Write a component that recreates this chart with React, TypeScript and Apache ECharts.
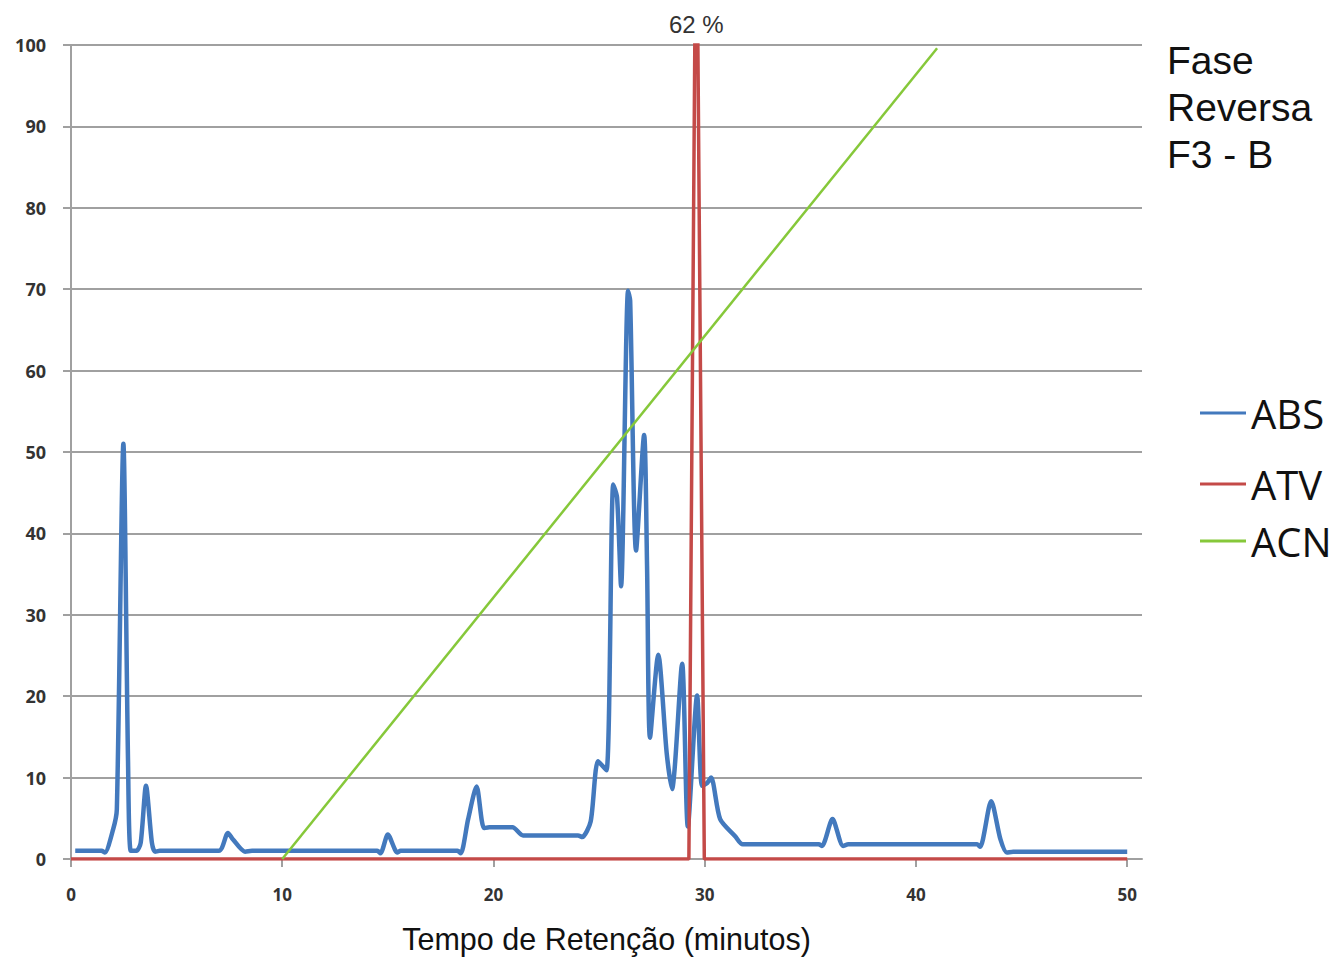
import React, { useEffect, useRef } from "react";
import * as echarts from "echarts";

// Chromatogram: absorbance (ABS), activity (ATV) and acetonitrile gradient (ACN)
const absPoints: [number, number][] = [
  [0.2, 1.0], [1.45, 1.0], [1.6, 0.8], [2.0, 3.7], [2.17, 6.1], [2.48, 51], [2.7, 12],
  [2.83, 1.0], [3.1, 1.0], [3.3, 2.0], [3.55, 9.0], [3.83, 2.0], [3.98, 0.9], [4.2, 1.0],
  [7.0, 1.0], [7.43, 3.2], [7.67, 2.4], [8.24, 0.9], [8.57, 1.0],
  [14.5, 1.0], [14.65, 0.7], [15.0, 3.0], [15.45, 0.8], [15.6, 1.0],
  [18.3, 1.0], [18.45, 0.7], [18.8, 4.9], [19.2, 8.9], [19.55, 3.8], [19.8, 3.9],
  [20.9, 3.9], [21.4, 2.9], [24.0, 2.9], [24.2, 2.7], [24.6, 4.6], [24.95, 12.0],
  [25.35, 10.9], [25.67, 46], [25.85, 44.4], [26.04, 33.5], [26.37, 69.8], [26.47, 68.6],
  [26.75, 37.9], [27.13, 52.1], [27.27, 36], [27.41, 14.9], [27.8, 25.1], [28.2, 13],
  [28.45, 8.6], [28.93, 24], [29.2, 4], [29.64, 20.1], [29.87, 9], [30.1, 9.3],
  [30.3, 10.0], [30.73, 4.9], [31.44, 2.8], [31.8, 1.8], [35.4, 1.8], [35.55, 1.6],
  [36.05, 4.9], [36.55, 1.6], [36.8, 1.8], [42.9, 1.8], [43.04, 1.5], [43.56, 7.1],
  [44.0, 2.4], [44.3, 0.8], [44.6, 0.9], [50, 0.9],
];

const atvPoints: [number, number][] = [
  [0, 0], [29.25, 0], [29.6, 125], [29.98, 0], [50, 0],
];

const acnPoints: [number, number][] = [
  [10, 0], [41, 99.6],
];

const xTicks = [0, 10, 20, 30, 40, 50];
const acnAtActivePeak = 62;
const activePeakTime = 29.6;

const axisGray = "#a0a0a0";
const labelStyle = {
  color: "#333",
  fontFamily: "Open Sans",
  fontWeight: "bold" as const,
  fontSize: 17,
};

export default function App() {
  const ref = useRef<HTMLDivElement>(null);

  useEffect(() => {
    if (!ref.current) return;
    const chart = echarts.init(ref.current, undefined, { renderer: "svg" });

    const legendItem = (name: string, top: number) => ({
      data: [name],
      left: 1200,
      top,
      padding: 0,
      orient: "vertical",
      icon: "rect",
      itemWidth: 46,
      itemHeight: 3,
      textStyle: { color: "#111", fontFamily: "Open Sans", fontSize: 40 },
    });

    chart.setOption({
      animation: false,
      backgroundColor: "#fff",
      title: {
        text: "Fase\nReversa\nF3 - B",
        left: 1167,
        top: 37,
        padding: 0,
        textStyle: {
          color: "#111",
          fontFamily: "Liberation Sans",
          fontWeight: "normal",
          fontSize: 39,
          lineHeight: 47,
        },
      },
      legend: [
        legendItem("ABS", 393),
        legendItem("ATV", 464),
        legendItem("ACN", 521),
      ],
      grid: { left: 71, right: 190, top: 45, bottom: 96 },
      xAxis: {
        type: "value",
        min: 0,
        max: 50.7,
        name: "Tempo de Retenção (minutos)",
        nameLocation: "middle",
        nameGap: 64,
        nameTextStyle: { color: "#111", fontFamily: "Liberation Sans", fontSize: 30.5 },
        axisLine: { show: true, lineStyle: { color: axisGray, width: 2 } },
        axisTick: { show: true, customValues: xTicks, length: 8, lineStyle: { color: axisGray, width: 2 } },
        axisLabel: { customValues: xTicks, margin: 27, ...labelStyle },
        splitLine: { show: false },
      },
      yAxis: {
        type: "value",
        min: 0,
        max: 100,
        interval: 10,
        axisLine: { show: true, lineStyle: { color: axisGray, width: 2 } },
        axisTick: { show: true, length: 8, lineStyle: { color: axisGray, width: 2 } },
        axisLabel: { margin: 25, ...labelStyle, fontSize: 18 },
        splitLine: { show: true, lineStyle: { color: axisGray, width: 2 } },
      },
      series: [
        {
          name: "ABS",
          type: "line",
          data: absPoints,
          showSymbol: false,
          smooth: 0.25,
          color: "#4379bd",
          lineStyle: { width: 4.5, color: "#4379bd" },
        },
        {
          name: "ATV",
          type: "line",
          data: atvPoints,
          showSymbol: false,
          clip: true,
          color: "#c44a48",
          lineStyle: { width: 3.5, color: "#c44a48" },
          markPoint: {
            symbol: "circle",
            symbolSize: 0,
            data: [{ coord: [activePeakTime, 100], value: acnAtActivePeak }],
            label: {
              show: true,
              position: "top",
              distance: 9,
              formatter: "{c} %",
              color: "#333",
              fontFamily: "Liberation Sans",
              fontSize: 24,
            },
          },
        },
        {
          name: "ACN",
          type: "line",
          data: acnPoints,
          showSymbol: false,
          color: "#86c83a",
          lineStyle: { width: 2.5, color: "#86c83a" },
        },
      ],
    });

    return () => chart.dispose();
  }, []);

  return (
    <div
      ref={ref}
      style={{ position: "fixed", left: 0, top: 0, width: 1332, height: 959, background: "#fff" }}
    />
  );
}
